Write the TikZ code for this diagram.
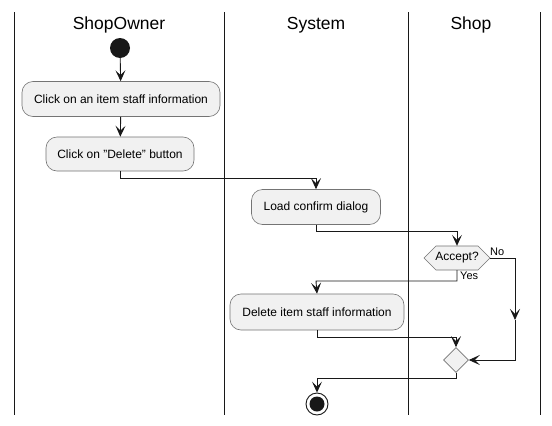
\documentclass[tikz,border=0pt]{standalone}
\usepackage{fontspec}
\setmainfont{Liberation Sans}
\usetikzlibrary{arrows.meta,shapes.geometric}
\definecolor{boxfill}{HTML}{F1F1F1}
\definecolor{ink}{HTML}{181818}
\begin{document}
\begin{tikzpicture}[x=1pt,y=-1pt,
  lane/.style={draw=ink,line width=0.9pt},
  hdr/.style={font=\fontsize{17.5}{20}\selectfont},
  act/.style={draw=ink!60,line width=0.6pt,fill=boxfill,rounded corners=11pt,minimum height=35pt,inner xsep=6pt,font=\fontsize{12}{14}\selectfont,anchor=center},
  flow/.style={draw=ink,line width=0.9pt,-{Stealth[length=11pt,width=10pt,inset=5pt]}},
  lbl/.style={font=\fontsize{11}{13}\selectfont,inner sep=1pt}]
\useasboundingbox (0,0) rectangle (552,426);
\fill[white] (0,0) rectangle (552,426);
% lanes
\draw[lane] (14,12) -- (14,415);
\draw[lane] (224,12) -- (224,415);
\draw[lane] (408,12) -- (408,415);
\draw[lane] (540,12) -- (540,415);
\node[hdr] (h1) at (119,25) {ShopOwner};
\node[hdr] (h2) at (316,25) {System};
\node[hdr] (h3) at (471,25) {Shop};
% nodes
\node[circle,fill=ink,minimum size=20pt,inner sep=0pt] (start) at (120,48) {};
\node[act,minimum width=198pt] (a1) at (121,99) {Click on an item staff information};
\node[act,minimum width=148pt,minimum height=34pt] (a2) at (120,154) {Click on {\char34}Delete{\char34} button};
\node[act,minimum width=129pt] (a3) at (316,207) {Load confirm dialog};
\coordinate (d1w) at (424,258);
\coordinate (d1e) at (490,258);
\filldraw[draw=ink!60,line width=0.6pt,fill=boxfill] (d1w) -- (436,246) -- (478,246) -- (d1e) -- (478,270) -- (436,270) -- cycle;
\node[minimum width=41pt,minimum height=24pt,inner sep=1pt,font=\fontsize{12}{14}\selectfont] (d1) at (457,258) {Accept?};
\node[act,minimum width=174pt,minimum height=36pt] (a4) at (317,312) {Delete item staff information};
\node[diamond,draw=ink!60,line width=0.6pt,fill=boxfill,minimum size=25pt,inner sep=0pt] (m) at (456,360) {};
\node[circle,draw=ink,line width=0.9pt,minimum size=22pt,inner sep=0pt] (end) at (317,404) {};
\node[circle,fill=ink,minimum size=15pt,inner sep=0pt] (endin) at (end) {};
\coordinate (nb) at (515,258);
\coordinate (nc) at (515,320);
\coordinate (yc) at (316,281);
% connectors
\draw[flow] (start) -- (a1);
\draw[flow] (a1) -- (a2);
\draw[flow] (a2.south) |- (316,178) -- (a3.north);
\draw[flow] (a3.south) |- (457,231) -- (d1.north);
\draw[flow] (d1.south) |- (yc) -- (a4.north);
\draw[flow] (d1e) -- (nb) -- (nc);
\draw[flow] (nc) |- (m.east);
\draw[flow] (a4.south) |- (456,337) -- (m.north);
\draw[flow] (m.south) |- (317,378) -- (end.north);
\node[lbl,anchor=south west] (no) at (489,257) {No};
\node[lbl,anchor=north west] (yes) at (459,271) {Yes};
\end{tikzpicture}
\end{document}
